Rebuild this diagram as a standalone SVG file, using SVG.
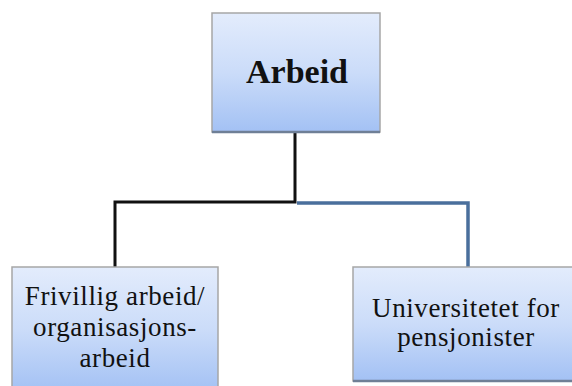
<svg xmlns="http://www.w3.org/2000/svg" width="572" height="386" viewBox="0 0 572 386">
<defs>
<linearGradient id="g" x1="0" y1="0" x2="0" y2="1">
<stop offset="0" stop-color="#e3ecfc"/>
<stop offset="0.5" stop-color="#cbdcf9"/>
<stop offset="1" stop-color="#a3c1f4"/>
</linearGradient>
<style>
.box{fill:url(#g);stroke:#a6a6a6;stroke-width:1.5}
.sh{stroke:#6f7f96;stroke-width:2.5}
.t{font-family:"Liberation Serif","Times New Roman",serif;fill:#111;text-anchor:middle}
.s{font-size:27px;letter-spacing:0.6px}
</style>
</defs>
<rect width="572" height="386" fill="#fff"/>
<g id="connectors" fill="none">
<path d="M295 133 V202 H115 V267" stroke="#111" stroke-width="3"/>
<path d="M297 203 H468 V267" stroke="#4a6f9c" stroke-width="3.5"/>
</g>
<g id="arbeid">
<rect class="box" x="212" y="13" width="168" height="119"/>
<line class="sh" x1="212" y1="132" x2="380" y2="132"/>
<text class="t" x="297" y="83" font-size="34" font-weight="bold">Arbeid</text>
</g>
<g id="frivillig">
<rect class="box" x="12" y="267" width="206" height="125"/>
<text class="t s" x="115" y="305">Frivillig arbeid/</text>
<text class="t s" x="115" y="336">organisasjons-</text>
<text class="t s" x="115" y="367">arbeid</text>
</g>
<g id="universitetet">
<rect class="box" x="353" y="267" width="225" height="114"/>
<line class="sh" x1="353" y1="381" x2="572" y2="381"/>
<text class="t s" x="466" y="317">Universitetet for</text>
<text class="t s" x="466" y="346">pensjonister</text>
</g>
</svg>
